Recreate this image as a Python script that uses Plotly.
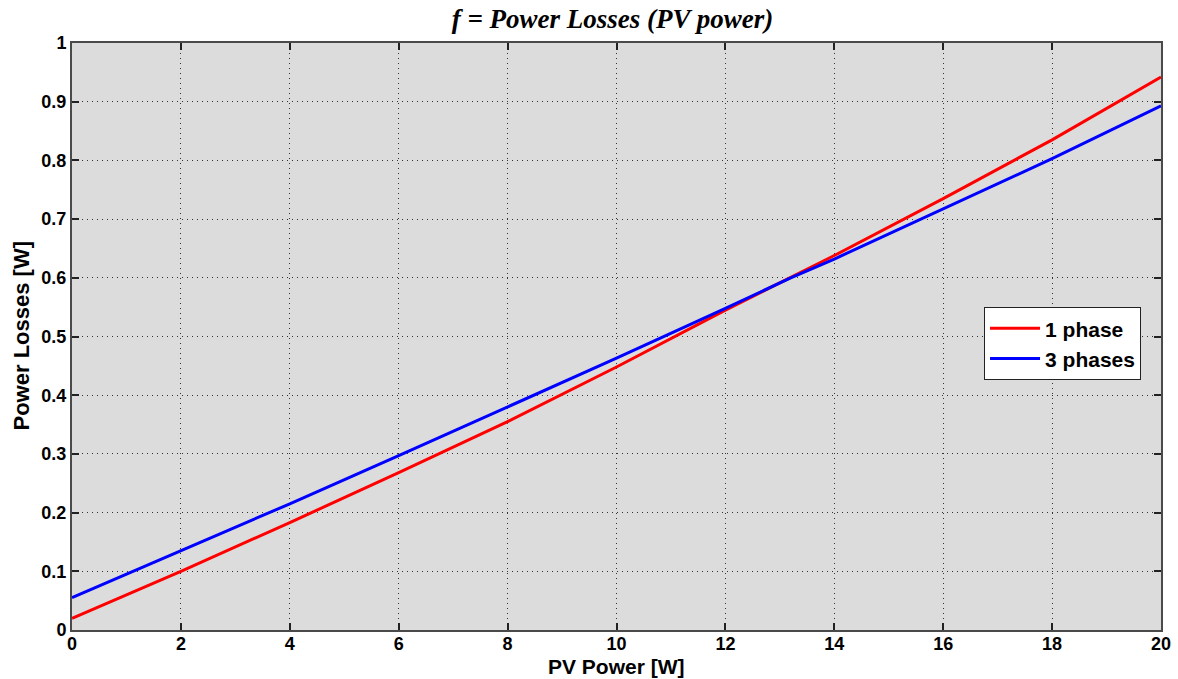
import plotly.graph_objects as go

pv_power = [0, 2, 4, 6, 8, 10, 12, 13.2, 14, 16, 18, 20]
loss_1phase = [0.020, 0.100, 0.183, 0.268, 0.355, 0.448, 0.545, 0.600, 0.638, 0.735, 0.835, 0.942]
loss_3phase = [0.055, 0.135, 0.215, 0.297, 0.380, 0.463, 0.548, 0.600, 0.632, 0.718, 0.803, 0.893]

x_ticks = list(range(0, 21, 2))
y_ticks = [round(i * 0.1, 1) for i in range(11)]
y_tick_text = ["0", "0.1", "0.2", "0.3", "0.4", "0.5", "0.6", "0.7", "0.8", "0.9", "1"]

fig = go.Figure()
fig.add_trace(go.Scatter(x=pv_power, y=loss_1phase, mode="lines", name="1 phase",
                         line=dict(color="#ff0000", width=3)))
fig.add_trace(go.Scatter(x=pv_power, y=loss_3phase, mode="lines", name="3 phases",
                         line=dict(color="#0000ff", width=3)))

axis_common = dict(
    showline=True, linecolor="#4a4a4a", linewidth=2, mirror="ticks",
    ticks="inside", ticklen=7, tickwidth=1.5, tickcolor="#222222",
    showgrid=True, gridcolor="#333333", griddash="1px,4px", gridwidth=1,
    zeroline=False, ticklabeloverflow="allow", automargin=False,
    tickfont=dict(family="Arial, Liberation Sans", size=18, color="black", weight="bold"),
)

fig.update_layout(
    width=1178, height=679,
    margin=dict(l=72, r=17, t=43, b=49),
    paper_bgcolor="white", plot_bgcolor="#dcdcdc",
    title=dict(text="<b><i>f = Power Losses (PV power)</i></b>",
               font=dict(family="Liberation Serif, Times New Roman", size=27, color="black"),
               x=0.52, xanchor="center", y=0.972, yanchor="middle"),
    xaxis=dict(range=[0, 20], tickvals=x_ticks, ticklabelstandoff=-4, **axis_common),
    yaxis=dict(range=[0, 1], tickvals=y_ticks, ticktext=y_tick_text, **axis_common),
    legend=dict(x=0.8375, y=0.55, xanchor="left", yanchor="top",
                bgcolor="white", bordercolor="#222222", borderwidth=1,
                font=dict(family="Arial, Liberation Sans", size=21, color="black", weight="bold"),
                itemwidth=50, tracegroupgap=0),
    showlegend=True,
    annotations=[
        dict(text="<b>PV Power [W]</b>", xref="paper", yref="paper", x=0.5, y=0,
             xanchor="center", yanchor="middle", yshift=-36, showarrow=False,
             font=dict(family="Arial, Liberation Sans", size=21, color="black")),
        dict(text="<b>Power Losses [W]</b>", xref="paper", yref="paper", x=0, y=0.5,
             xanchor="center", yanchor="middle", xshift=-51, textangle=-90, showarrow=False,
             font=dict(family="Arial, Liberation Sans", size=22, color="black")),
    ],
)

fig.write_html("out.html", config={"displayModeBar": False},
               post_script="document.body.style.margin='0';document.body.style.overflow='hidden';")
